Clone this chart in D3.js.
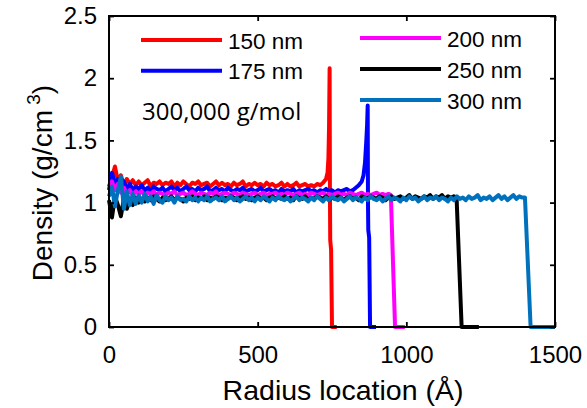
<!DOCTYPE html>
<html>
<head>
<meta charset="utf-8">
<script src="https://cdn.jsdelivr.net/npm/d3@7"></script>
<style>
  body { margin: 0; background: #fff; }
  text { font-family: "Liberation Sans", Arial, sans-serif; fill: #000; }
</style>
</head>
<body>
<div id="area_1"></div>
<script>
// density profiles, sampled every 10 A from r = 0, then the wall part as [r, density]
var step = 10

var series_names = ["150 nm", "175 nm", "200 nm", "250 nm", "300 nm"]
var series_colors = ["#ff0000", "#0000ff", "#ff00ff", "#000000", "#0072bd"]

var body_150 = [1.13,1.20,1.29,1.17,1.22,1.14,1.19,1.15,1.18,1.14,
  1.17,1.14,1.16,1.18,1.13,1.16,1.15,1.17,1.14,1.16,
  1.15,1.17,1.13,1.16,1.14,1.17,1.15,1.13,1.16,1.15,
  1.17,1.14,1.15,1.16,1.13,1.15,1.17,1.14,1.16,1.14,
  1.15,1.13,1.16,1.14,1.15,1.17,1.13,1.15,1.14,1.16,
  1.14,1.15,1.13,1.16,1.14,1.15,1.13,1.14,1.16,1.13,
  1.15,1.13,1.14,1.16,1.13,1.14,1.15,1.13,1.14,1.13,
  1.15,1.14,1.16,1.19]
var tail_150 = [[735,1.24],[738,1.36],[740,1.6],[742,2.08],[743,1.1],[744,0.7],[747,0.62],[750,0],[766,0]]

var body_175 = [1.10,1.24,1.15,1.19,1.12,1.17,1.11,1.15,1.10,1.13,
  1.11,1.14,1.10,1.12,1.09,1.13,1.11,1.10,1.12,1.09,
  1.11,1.13,1.10,1.12,1.09,1.11,1.13,1.10,1.11,1.09,
  1.12,1.10,1.11,1.13,1.09,1.10,1.12,1.10,1.11,1.09,
  1.12,1.10,1.09,1.11,1.10,1.12,1.09,1.10,1.11,1.09,
  1.10,1.12,1.09,1.10,1.11,1.09,1.10,1.08,1.11,1.09,
  1.10,1.09,1.11,1.08,1.10,1.09,1.10,1.11,1.09,1.10,
  1.08,1.10,1.09,1.11,1.09,1.10,1.08,1.10,1.09,1.10,
  1.11,1.09,1.10,1.12,1.14,1.17]
var tail_175 = [[856,1.22],[861,1.32],[865,1.48],[868,1.62],[870,1.78],[871,1.0],[872,0.78],[875,0.72],[878,0],[898,0]]

var body_200 = [1.13,1.17,1.10,1.15,1.08,1.12,1.07,1.10,1.06,1.09,
  1.07,1.09,1.06,1.08,1.07,1.09,1.06,1.08,1.07,1.06,
  1.08,1.07,1.09,1.06,1.07,1.08,1.06,1.07,1.09,1.07,
  1.06,1.08,1.07,1.06,1.08,1.07,1.09,1.06,1.07,1.08,
  1.07,1.06,1.08,1.07,1.06,1.08,1.07,1.06,1.07,1.08,
  1.06,1.07,1.08,1.06,1.07,1.07,1.08,1.06,1.07,1.06,
  1.08,1.07,1.06,1.07,1.08,1.06,1.07,1.06,1.08,1.07,
  1.06,1.07,1.08,1.06,1.07,1.06,1.07,1.08,1.06,1.07,
  1.06,1.08,1.07,1.06,1.07,1.08,1.06,1.07,1.06,1.07,
  1.08,1.06,1.07,1.06,1.07]
var tail_200 = [[948,1.06],[962,0],[995,0]]

var body_250 = [1.02,0.88,1.05,0.98,0.89,1.03,0.95,1.02,0.98,1.04,
  1.00,1.03,1.01,1.04,1.02,1.05,1.03,1.01,1.04,1.02,
  1.03,1.05,1.02,1.04,1.03,1.01,1.04,1.03,1.05,1.02,
  1.04,1.03,1.05,1.02,1.04,1.03,1.05,1.04,1.02,1.04,
  1.03,1.05,1.04,1.02,1.04,1.05,1.03,1.04,1.02,1.04,
  1.05,1.03,1.04,1.02,1.04,1.05,1.03,1.04,1.03,1.05,
  1.03,1.04,1.02,1.05,1.04,1.03,1.05,1.02,1.04,1.03,
  1.05,1.04,1.03,1.05,1.02,1.04,1.03,1.05,1.04,1.02,
  1.04,1.05,1.03,1.04,1.02,1.05,1.04,1.03,1.05,1.04,
  1.03,1.05,1.04,1.02,1.04,1.05,1.03,1.04,1.05,1.03,
  1.04,1.06,1.03,1.05,1.04,1.03,1.05,1.04,1.06,1.03,
  1.05,1.04,1.06,1.03,1.05,1.04,1.05]
var tail_250 = [[1169,1.04],[1186,0],[1244,0]]

var body_300 = [1.05,1.13,0.97,1.10,1.21,0.95,1.09,0.98,1.07,0.99,
  1.06,1.00,1.07,1.01,1.05,0.99,1.06,1.02,1.00,1.05,
  1.02,1.04,1.00,1.05,1.02,1.03,1.01,1.05,1.02,1.04,
  1.01,1.04,1.02,1.05,1.01,1.03,1.04,1.02,1.05,1.01,
  1.03,1.05,1.02,1.04,1.01,1.03,1.05,1.02,1.04,1.01,
  1.04,1.02,1.05,1.03,1.01,1.04,1.02,1.05,1.03,1.02,
  1.04,1.01,1.03,1.05,1.02,1.04,1.03,1.01,1.04,1.02,
  1.05,1.03,1.01,1.04,1.02,1.05,1.03,1.02,1.04,1.01,
  1.03,1.05,1.02,1.04,1.03,1.01,1.04,1.02,1.05,1.03,
  1.02,1.04,1.01,1.03,1.05,1.02,1.04,1.03,1.01,1.04,
  1.02,1.05,1.03,1.04,1.01,1.03,1.05,1.02,1.04,1.03,
  1.05,1.02,1.04,1.03,1.01,1.04,1.02,1.05,1.03,1.04,
  1.02,1.05,1.03,1.04,1.06,1.02,1.04,1.03,1.05,1.02,
  1.04,1.06,1.03,1.05,1.02,1.04,1.06,1.03,1.05,1.04]
var tail_300 = [[1399,1.04],[1418,0],[1500,0]]

var bodies = [body_150, body_175, body_200, body_250, body_300]
var tails = [tail_150, tail_175, tail_200, tail_250, tail_300]

var x_ticks = [0, 500, 1000, 1500]
var y_ticks = [0, 0.5, 1, 1.5, 2, 2.5]

var margin_top = 16,
margin_left = 109,
width = 446,
height = 311

function to_points(body, tail) {
  var pts = body.map(function(d, i) { return [i * step, d] })
    .filter(function(p) { return p[0] < tail[0][0] })
  return pts.concat(tail)
}

var svg = d3.select("#area_1")
  .append("svg")
  .attr("width", 587)
  .attr("height", 408)

var x = d3.scaleLinear().domain([0, 1500]).range([0, width])
var y = d3.scaleLinear().domain([0, 2.5]).range([height, 0])

var g = svg.append("g")
  .attr("transform", "translate(" + margin_left + "," + margin_top + ")")

var line = d3.line()
  .x(function(p) { return x(p[0]) })
  .y(function(p) { return y(p[1]) })

// profiles, the thicker films drawn on top
bodies.forEach(function(body, k) {
  g.append("path")
    .datum(to_points(body, tails[k]))
    .attr("d", line)
    .style("fill", "none")
    .style("stroke", series_colors[k])
    .style("stroke-width", 4)
    .style("stroke-linejoin", "round")
})

// axes with inward ticks
var xAxis = g.append("g")
  .attr("transform", "translate(0," + height + ")")
  .call(d3.axisBottom(x).tickValues(x_ticks).tickSize(-5).tickPadding(19).tickFormat(d3.format("d")))
var xTop = g.append("g")
  .call(d3.axisTop(x).tickValues(x_ticks).tickSize(-5).tickFormat(""))
var yAxis = g.append("g")
  .call(d3.axisLeft(y).tickValues(y_ticks).tickSize(-5).tickPadding(12).tickFormat(d3.format("")))
var yRight = g.append("g")
  .attr("transform", "translate(" + width + ",0)")
  .call(d3.axisRight(y).tickValues(y_ticks).tickSize(-5).tickFormat(""))

g.selectAll(".domain").remove()
g.selectAll(".tick line").style("stroke", "#000").style("stroke-width", 1.8)
g.selectAll(".tick text")
  .attr("font-family", "Liberation Sans, Arial, sans-serif")
  .attr("font-size", "24px")
  .style("fill", "#000")

g.append("rect")
  .attr("width", width)
  .attr("height", height)
  .style("fill", "none")
  .style("stroke", "#000")
  .style("stroke-width", 2)

// axis titles
svg.append("text")
  .attr("x", 343)
  .attr("y", 400)
  .attr("text-anchor", "middle")
  .style("font-size", "28.5px")
  .text("Radius location (Å)")

var ylab = svg.append("text")
  .attr("transform", "translate(52,183) rotate(-90)")
  .attr("text-anchor", "middle")
  .style("font-size", "28px")
ylab.append("tspan").text("Density (g/cm")
ylab.append("tspan").attr("dy", -12).style("font-size", "19px").text(" 3")
ylab.append("tspan").attr("dy", 12).text(")")

// legend, two columns
var leg_x = [141, 141, 360, 360, 360]
var leg_y = [40, 70.7, 38, 69, 100]

series_names.forEach(function(name, k) {
  svg.append("line")
    .attr("x1", leg_x[k])
    .attr("x2", leg_x[k] + 81)
    .attr("y1", leg_y[k])
    .attr("y2", leg_y[k])
    .style("stroke", series_colors[k])
    .style("stroke-width", 4)
  svg.append("text")
    .attr("x", leg_x[k] + 87)
    .attr("y", leg_y[k] + 8.5)
    .style("font-size", "22.5px")
    .text(name)
})

svg.append("text")
  .attr("x", 142)
  .attr("y", 120)
  .style("font-family", "'Open Sans', sans-serif")
  .style("font-size", "24px")
  .text("300,000 g/mol")
</script>
</body>
</html>
